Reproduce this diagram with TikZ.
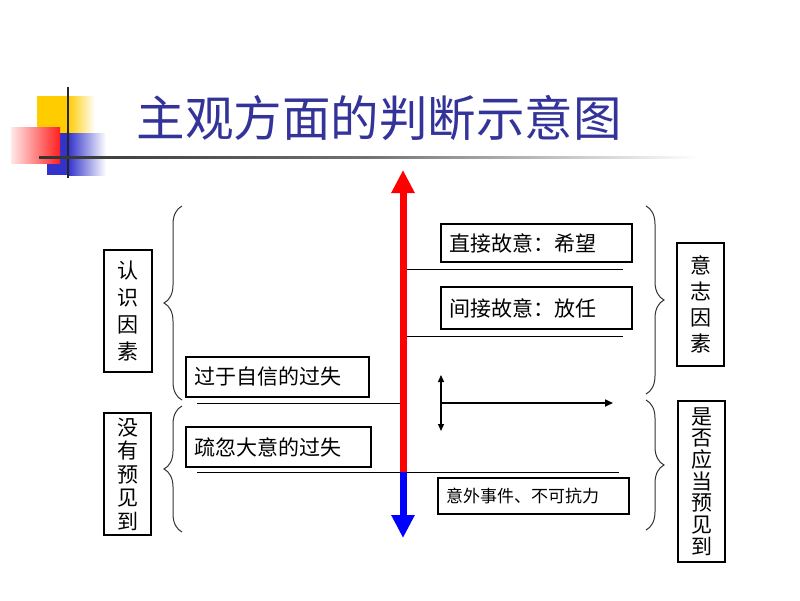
\documentclass[tikz,border=0pt]{standalone}
\usepackage{fontspec}
\newfontfamily\cjk{Noto Sans CJK SC}
\usetikzlibrary{arrows.meta,decorations.pathreplacing}
\definecolor{titleblue}{HTML}{333399}
\definecolor{logoyellow}{HTML}{FFCC00}
\definecolor{logoblue}{HTML}{3333CC}
\definecolor{logored}{HTML}{FF2020}
\definecolor{logopink}{HTML}{FFE8E8}
\begin{document}
\begin{tikzpicture}[x=1pt,y=-1pt,
  box/.style={draw, line width=1.2pt, font=\cjk\fontsize{21}{25}\selectfont, inner xsep=8pt, inner ysep=0pt, align=left},
  vbox/.style={draw, line width=1.2pt, inner sep=0pt, align=center},
  hline/.style={line width=1pt},
  bracestyle/.style={decorate, decoration={brace, amplitude=18pt}, line width=1pt, draw=black!80},
  bigarrow/.style={line width=7pt, -{Triangle[width=22pt,length=23pt]}},
  smallarrow/.style={line width=1.3pt}]
\useasboundingbox (0,0) rectangle (800,600);
% logo
\fill[logoyellow] (37,96) rectangle (68,133);
\shade[left color=logoyellow, right color=white] (68,96) rectangle (95,133);
\fill[logoblue] (47,133) rectangle (68,175);
\shade[left color=logoblue, right color=white] (68,133) rectangle (106,175);
\shade[shading angle=45, left color=logopink, right color=logored] (11,127) rectangle (60,163);
\draw[line width=2pt, black!85] (68,87) -- (68,178);
\shade[left color=black!80, right color=white, middle color=black!55] (39,156) rectangle (700,158.2);
% title
\node[font=\cjk\fontsize{48.5}{52}\selectfont, text=titleblue] (title) at (379,118) {主观方面的判断示意图};
% horizontal lines
\coordinate (l1a) at (405,269); \coordinate (l1b) at (623,269);
\coordinate (l2a) at (405,336); \coordinate (l2b) at (623,336);
\coordinate (l3a) at (197,403); \coordinate (l3b) at (403,403);
\coordinate (l4a) at (197,472); \coordinate (l4b) at (619,472);
\draw[hline] (l1a) -- (l1b);
\draw[hline] (l2a) -- (l2b);
\draw[hline] (l3a) -- (l3b);
\draw[hline] (l4a) -- (l4b);
% main arrow
\coordinate (atop) at (403,170);
\coordinate (amid) at (403,472);
\coordinate (abot) at (403,538);
\draw[bigarrow, red] (amid) -- (atop);
\draw[bigarrow, blue] (amid) -- (abot);
% small arrows
\coordinate (da1) at (441,375); \coordinate (da2) at (441,431);
\coordinate (ha1) at (441,403); \coordinate (ha2) at (613,403);
\draw[smallarrow, {Triangle[width=6pt,length=7pt]}-{Triangle[width=6pt,length=7pt]}] (da1) -- (da2);
\draw[smallarrow, line width=1.6pt, -{Triangle[width=7pt,length=8pt]}] (ha1) -- (ha2);
% boxes
\node[box, minimum height=38pt, text width=175pt] (zj) at (536.5,243) {直接故意：希望};
\node[box, minimum height=42pt, text width=175pt] (jj) at (536.5,308) {间接故意：放任};
\node[box, minimum height=40pt, text width=167pt] (gy) at (277.5,377) {过于自信的过失};
\node[box, minimum height=40pt, text width=169pt] (sh) at (278.5,447) {疏忽大意的过失};
\node[box, font=\cjk\fontsize{17}{20}\selectfont, minimum height=36pt, text width=175pt] (yw) at (533.5,496) {意外事件、不可抗力};
% vertical boxes
\node[vbox, minimum width=48pt, minimum height=122pt, font=\cjk\fontsize{21}{27}\selectfont] (rs) at (128,311) {认\\识\\因\\素};
\node[vbox, minimum width=47pt, minimum height=122pt, font=\cjk\fontsize{21}{23.5}\selectfont] (my) at (127.5,474) {没\\有\\预\\见\\到};
\node[vbox, minimum width=47pt, minimum height=123pt, font=\cjk\fontsize{21}{26}\selectfont] (yz) at (700.5,304.5) {意\\志\\因\\素};
\node[vbox, minimum width=47pt, minimum height=161pt, font=\cjk\fontsize{21}{21.7}\selectfont] (sf) at (701.5,481.5) {是\\否\\应\\当\\预\\见\\到};
% braces
\coordinate (b1a) at (182,400); \coordinate (b1b) at (182,206);
\coordinate (b2a) at (182,532); \coordinate (b2b) at (182,406);
\coordinate (b3a) at (646,206); \coordinate (b3b) at (646,394);
\coordinate (b4a) at (646,400); \coordinate (b4b) at (646,530);
\draw[bracestyle] (b1a) -- (b1b);
\draw[bracestyle] (b2a) -- (b2b);
\draw[bracestyle] (b3a) -- (b3b);
\draw[bracestyle] (b4a) -- (b4b);
\end{tikzpicture}
\end{document}
